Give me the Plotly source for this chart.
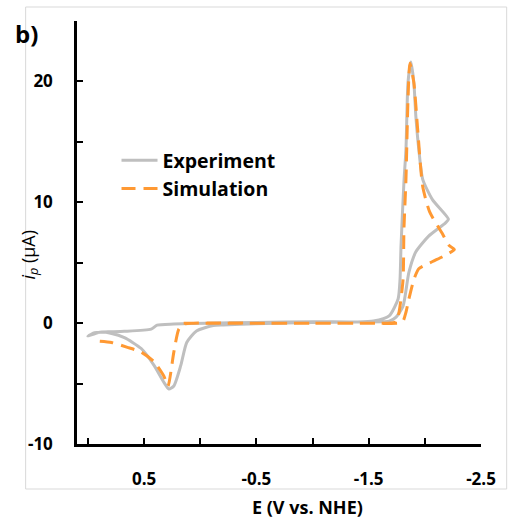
import plotly.graph_objects as go

# Experiment (gray) CV trace, in scan order
exp_E = [1.0, 0.94, 0.877, 0.824, 0.675, 0.437, 0.384, 0.235, -0.055, -0.5, -1.0, -1.392, -1.542, -1.682,
         -1.762, -1.779, -1.788, -1.814, -1.832, -1.850, -1.876, -1.902, -1.920, -1.946, -1.981, -2.069, -2.210,
         -2.184, -2.034, -1.920, -1.858, -1.806, -1.744, -1.682, -1.392, -1.0, -0.5, -0.205, -0.117,
         0.033, 0.120, 0.173, 0.235, 0.279, 0.323, 0.411, 0.525, 0.675, 0.789, 0.894, 1.0]
exp_I = [-1.07, -0.8, -0.75, -0.72, -0.68, -0.5, -0.17, -0.08, 0.0, 0.05, 0.12, 0.1, 0.17, 0.6,
         2.0, 3.6, 6.4, 11.7, 14.4, 19.9, 21.6, 19.9, 17.1, 14.4, 11.9, 10.2, 8.6,
         8.3, 7.2, 5.9, 4.2, 1.4, 0.5, 0.17, 0.1, 0.05, -0.05, -0.15, -0.2,
         -0.65, -1.6, -3.5, -5.2, -5.45, -4.9, -3.5, -2.1, -1.2, -0.85, -0.75, -1.07]

# Simulation (orange) CV trace, in scan order
sim_E = [0.147, 0.06, -0.5, -1.0, -1.5, -1.744, -1.770, -1.806, -1.814, -1.832, -1.850, -1.867,
         -1.902, -1.938, -1.981, -2.043, -2.150, -2.219, -2.263,
         -2.157, -2.069, -1.946, -1.902, -1.858, -1.832, -1.806, -1.770, -1.5, -1.0, -0.5, 0.06, 0.147,
         0.191, 0.235, 0.287, 0.323, 0.411, 0.525, 0.648, 0.789, 0.894]
sim_I = [0.0, 0.0, 0.0, 0.0, 0.0, 0.1, 0.9, 3.6, 7.8, 11.9, 18.5, 21.5,
         19.9, 15.8, 11.3, 9.2, 7.5, 6.4, 6.1,
         5.5, 5.1, 4.5, 3.6, 2.0, 0.9, 0.17, 0.0, 0.0, 0.0, 0.0, 0.0, -0.08,
         -0.5, -2.4, -5.2, -4.4, -3.2, -2.4, -2.0, -1.6, -1.5]

x_tickvals = [0.5, -0.5, -1.5, -2.5]
x_ticktext = ["0.5", "-0.5", "-1.5", "-2.5"]
y_tickvals = [-10, 0, 10, 20]
y_ticktext = ["-10", "0", "10", "20"]

GRAY = "#BFBFBF"
ORANGE = "#FF9933"
FONT = "Open Sans"

fig = go.Figure()
fig.add_trace(go.Scatter(x=exp_E, y=exp_I, mode="lines", name="Experiment",
                         line=dict(color=GRAY, width=3, shape="spline", smoothing=0.6)))
fig.add_trace(go.Scatter(x=sim_E, y=sim_I, mode="lines", name="Simulation",
                         line=dict(color=ORANGE, width=3, dash="14px,8px", shape="spline", smoothing=0.6)))

W, H = 508, 519
L, R, T, B = 77, 22, 21, 75
pw, ph = W - L - R, H - T - B

def px2paper(xp, yp):
    return (xp - L) / pw, (H - B - yp) / ph

x0, y0 = px2paper(25, 489)
x1, y1 = px2paper(512, 7)
fig.add_shape(type="rect", xref="paper", yref="paper", x0=x0, y0=y0, x1=x1, y1=y1,
              line=dict(color="#D9D9D9", width=1), fillcolor="rgba(0,0,0,0)", layer="below")

ax_, ay_ = px2paper(12, 33)
fig.add_annotation(text="<b>b)</b>", xref="paper", yref="paper", x=ax_, y=ay_,
                   xanchor="left", yanchor="middle", showarrow=False,
                   font=dict(family=FONT, size=24, color="black"))
lx, ly = px2paper(28, 255)
fig.add_annotation(text="<i>i</i><sub><i>p</i></sub> (μA)", xref="paper", yref="paper", x=lx, y=ly,
                   xanchor="center", yanchor="middle", textangle=-90, showarrow=False,
                   font=dict(family=FONT, size=18, color="black"))
tx, ty = px2paper(310, 507)
fig.add_annotation(text="<b>E (V vs. NHE)</b>", xref="paper", yref="paper", x=tx, y=ty,
                   xanchor="center", yanchor="middle", showarrow=False,
                   font=dict(family=FONT, size=18, color="black"))

gx, gy = px2paper(117, 141)
fig.update_layout(
    width=W, height=H, margin=dict(l=L, r=R, t=T, b=B),
    paper_bgcolor="white", plot_bgcolor="white",
    font=dict(family=FONT, size=17, color="black"),
    legend=dict(x=gx, y=gy, xanchor="left", yanchor="top", bgcolor="rgba(0,0,0,0)",
                font=dict(family=FONT, size=19.5, color="black", weight="bold"),
                tracegroupgap=0, itemwidth=36),
    showlegend=True,
)
fig.update_xaxes(range=[1.097, -2.5], showgrid=False, zeroline=False,
                 showline=True, linecolor="black", linewidth=2.5,
                 tickmode="array", tickvals=x_tickvals, ticktext=x_ticktext,
                 ticks="inside", ticklen=6, tickwidth=2, tickcolor="black",
                 ticklabelstandoff=18,
                 tickfont=dict(family=FONT, size=17, color="black", weight="bold"),
                 minor=dict(tickmode="linear", tick0=0, dtick=0.5, ticks="inside",
                            ticklen=6, tickwidth=2, tickcolor="black", showgrid=False))
fig.update_yaxes(range=[-10, 25], showgrid=False, zeroline=False,
                 showline=True, linecolor="black", linewidth=2.5,
                 tickmode="array", tickvals=y_tickvals, ticktext=y_ticktext,
                 ticks="inside", ticklen=6, tickwidth=2, tickcolor="black",
                 ticklabelstandoff=18,
                 tickfont=dict(family=FONT, size=17, color="black", weight="bold"),
                 minor=dict(tickmode="linear", tick0=0, dtick=5, ticks="inside",
                            ticklen=6, tickwidth=2, tickcolor="black", showgrid=False))

fig.write_html("out.html", config={"displayModeBar": False},
               post_script="document.body.style.margin='0';document.body.style.overflow='hidden';")
